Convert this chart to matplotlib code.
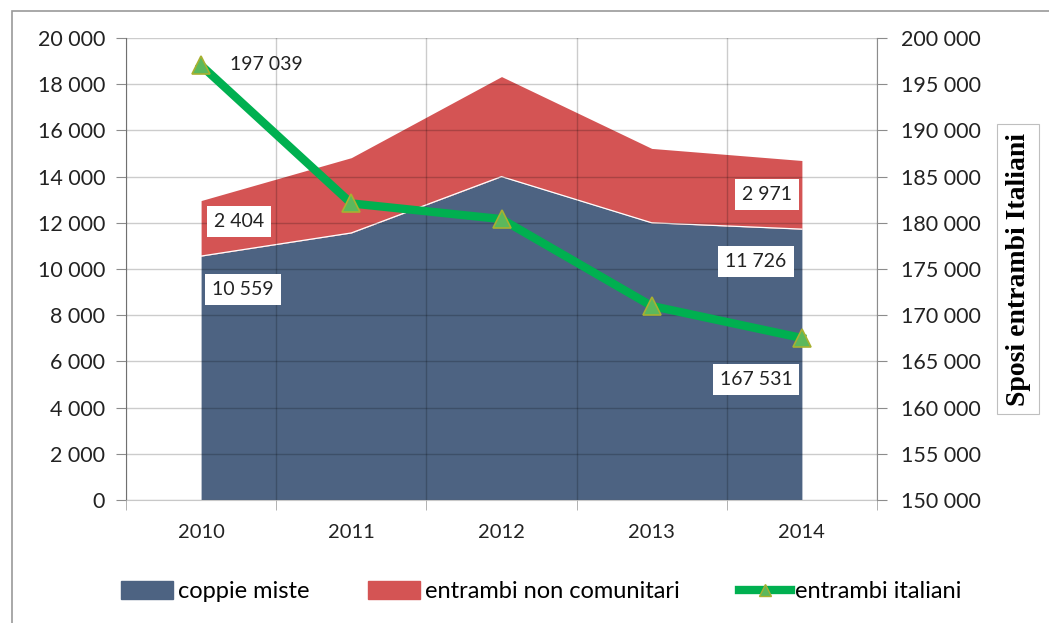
import numpy as np
import matplotlib.pyplot as plt
from matplotlib.ticker import FuncFormatter, FixedLocator
from matplotlib.patches import Patch, Rectangle
from matplotlib.lines import Line2D

plt.rcParams['font.family'] = ['Lato', 'DejaVu Sans']

years = ['2010', '2011', '2012', '2013', '2014']
coppie_miste = [10559, 11560, 14000, 12000, 11726]
non_comunitari = [2404, 3260, 4330, 3220, 2971]
italiani = [197039, 182100, 180400, 171000, 167531]

blue = '#4d6382'
red = '#d45454'
green = '#00b050'

def fmt(v, pos=None):
    return '{:,.0f}'.format(v).replace(',', ' ')

fig = plt.figure(figsize=(10.49, 6.23), dpi=100)
ax = fig.add_axes([126/1049, 123/623, 751/1049, 462/623])
x = np.arange(len(years))
top = np.array(coppie_miste) + np.array(non_comunitari)

ax.fill_between(x, 0, coppie_miste, color=blue, lw=0, zorder=1)
ax.fill_between(x, coppie_miste, top, color=red, lw=0, zorder=1)
ax.plot(x, coppie_miste, color='white', lw=0.9, zorder=2)

ax.set_xlim(-0.5, 4.5)
ax.set_ylim(0, 20000)
ax.set_yticks(np.arange(0, 20001, 2000))
ax.yaxis.set_major_formatter(FuncFormatter(fmt))
ax.set_xticks(x)
ax.set_xticklabels(years)
ax.xaxis.set_minor_locator(FixedLocator(np.arange(-0.5, 4.6, 1)))
ax.tick_params(axis='x', which='major', length=0, pad=17, labelsize=14.5, colors='#222222')
ax.tick_params(axis='x', which='minor', length=7, color='#a6a6a6', direction='out')
ax.tick_params(axis='y', length=7, color='#8c8c8c', labelsize=15.5, labelcolor='#222222', pad=8)
ax.grid(True, axis='y', color='black', alpha=0.2, lw=1)
ax.grid(True, axis='x', which='minor', color='black', alpha=0.2, lw=1)
ax.set_axisbelow(False)
for s in ['top', 'right']:
    ax.spines[s].set_visible(False)
ax.spines['left'].set_color('#8c8c8c')
ax.spines['bottom'].set_color('#c8c8c8')

ax2 = ax.twinx()
ax2.plot(x, italiani, color=green, lw=6, marker='^', markersize=13,
         markerfacecolor='#5cb85c', markeredgecolor='#a8b030', markeredgewidth=1.2, zorder=3)
ax2.set_ylim(150000, 200000)
ax2.set_yticks(np.arange(150000, 200001, 5000))
ax2.yaxis.set_major_formatter(FuncFormatter(fmt))
ax2.tick_params(axis='y', length=7, color='#8c8c8c', labelsize=15.5, labelcolor='#222222', pad=10)
for s in ['top', 'left', 'bottom']:
    ax2.spines[s].set_visible(False)
ax2.spines['right'].set_color('#8c8c8c')
ax2.set_ylabel('Sposi entrambi Italiani', family='Liberation Serif', fontweight='bold',
               fontsize=20, labelpad=18,
               bbox=dict(facecolor='white', edgecolor='#bfbfbf', lw=0.8, pad=6))

box = dict(facecolor='white', edgecolor='none', pad=5)
lab = dict(fontsize=14, ha='center', va='center', color='#222222', textcoords='offset pixels')
ax2.annotate(fmt(italiani[0]), (0, italiani[0]), xytext=(65, 1), **lab)
ax2.annotate(fmt(italiani[4]), (4, italiani[4]), xytext=(-46, -41), bbox=box, **lab)
ax.annotate(fmt(non_comunitari[0]), (0, coppie_miste[0] + non_comunitari[0] / 2), xytext=(38, 7), bbox=box, **lab)
ax.annotate(fmt(coppie_miste[0]), (0, coppie_miste[0]), xytext=(42, -33), bbox=box, **lab)
ax.annotate(fmt(non_comunitari[4]), (4, coppie_miste[4] + non_comunitari[4] / 2), xytext=(-35, 0), bbox=box, **lab)
ax.annotate(fmt(coppie_miste[4]), (4, coppie_miste[4]), xytext=(-46, -32), bbox=box, **lab)

handles = [Patch(color=blue), Patch(color=red),
           Line2D([], [], color=green, lw=6, marker='^', markersize=9,
                  markerfacecolor='#5cb85c', markeredgecolor='#a8b030')]
fig.legend(handles, ['coppie miste', 'entrambi non comunitari', 'entrambi italiani'],
           loc='center', bbox_to_anchor=(0.516, 0.05), ncol=3, frameon=False,
           fontsize=17, handlelength=2.2, handleheight=0.8, columnspacing=2.5,
           handletextpad=0.2)

fig.add_artist(Rectangle((12/1049, -0.05), 1.2, (623 - 11)/623 + 0.05,
                         transform=fig.transFigure, fill=False, edgecolor='#9a9a9a', lw=1.2))

fig.savefig('out.png', dpi=100)
